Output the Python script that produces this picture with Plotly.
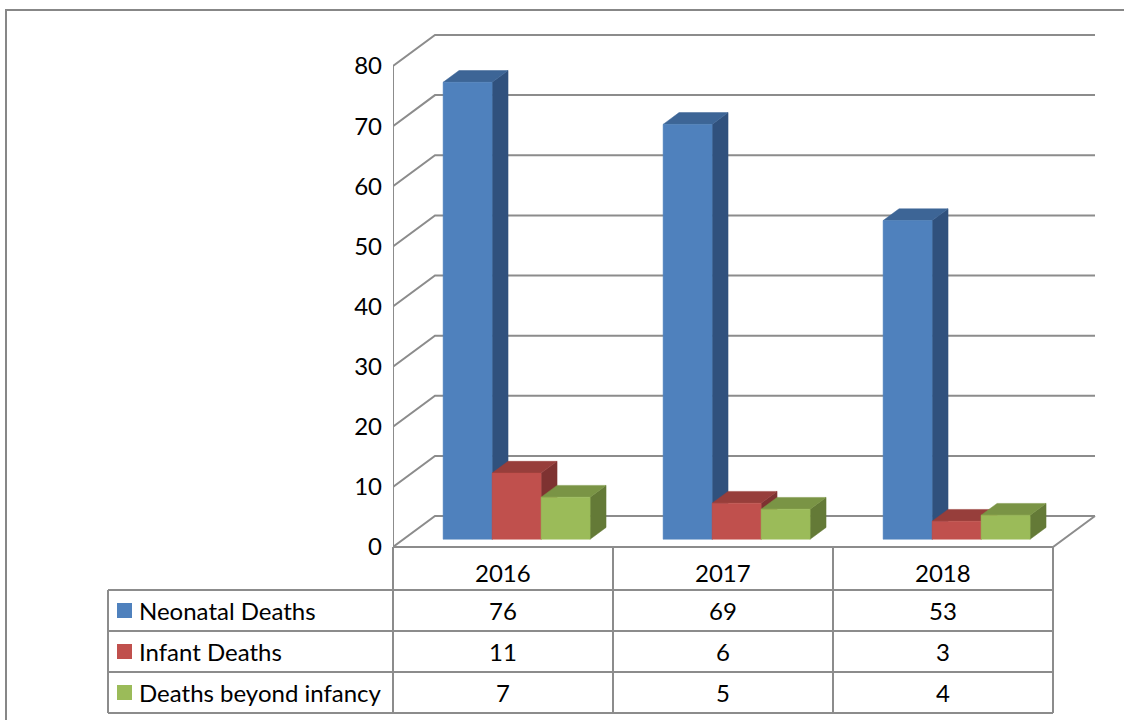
import plotly.graph_objects as go

# ---------------- data ----------------
years = ["2016", "2017", "2018"]
series_names = ["Neonatal Deaths", "Infant Deaths", "Deaths beyond infancy"]
neonatal = [76, 69, 53]
infant = [11, 6, 3]
beyond = [7, 5, 4]
y_ticks = [0, 10, 20, 30, 40, 50, 60, 70, 80]

series_values = [neonatal, infant, beyond]
front_colors = ["#4F81BD", "#C0504D", "#9BBB59"]
top_colors = ["#3D6596", "#973E3B", "#7A9445"]
side_colors = ["#30517D", "#7E3231", "#647A37"]

# ---------------- geometry ----------------
W, H = 1124, 720
X0_PX = 393.0          # pixel of category axis start
CAT_PX = 220.0         # pixels per category
Y0_PX = 547.0          # pixel of value 0 (front)
UNIT_PX = 6.0125       # pixels per value unit
DX = 42.0 / CAT_PX     # wall depth in category units
DY = 31.0 / UNIT_PX    # wall depth in value units
GROUP_START = 0.18
BAR_W = 0.2227
D_FRONT, D_BACK = 0.25, 0.63
GRID = "#8C8C8C"
FONT = "Lato"
FS = 24

x_range = [0, (W - X0_PX) / CAT_PX]
y_max = Y0_PX / UNIT_PX
y_range = [y_max - H / UNIT_PX, y_max]


def proj(x, y, d):
    return x + d * DX, y + d * DY


def px_x(x):  # data x -> paper
    return (X0_PX + x * CAT_PX) / W


def py(p):  # pixel y -> paper
    return 1 - p / H


fig = go.Figure()


def poly(pts, color, line_color=None):
    xs = [p[0] for p in pts] + [pts[0][0]]
    ys = [p[1] for p in pts] + [pts[0][1]]
    fig.add_trace(go.Scatter(x=xs, y=ys, mode="lines", fill="toself",
                             fillcolor=color,
                             line=dict(color=line_color or color, width=0.5),
                             hoverinfo="skip", showlegend=False))


def line(pts, color=GRID, width=2):
    fig.add_trace(go.Scatter(x=[p[0] for p in pts], y=[p[1] for p in pts],
                             mode="lines", line=dict(color=color, width=width),
                             hoverinfo="skip", showlegend=False))


n_cat = len(years)
# gridlines on side and back walls
for t in y_ticks:
    line([(0, t), proj(0, t, 1), proj(n_cat, t, 1)])
# floor front and right edges
line([proj(n_cat, 0, 1), (n_cat, 0), (0, 0)])
# front value axis
line([(0, 0), (0, y_ticks[-1])])

# bars
for i in range(n_cat):
    for j, vals in enumerate(series_values):
        v = vals[i]
        xl = i + GROUP_START + j * BAR_W
        xr = xl + BAR_W
        side = [proj(xr, 0, D_FRONT), proj(xr, 0, D_BACK), proj(xr, v, D_BACK), proj(xr, v, D_FRONT)]
        top = [proj(xl, v, D_FRONT), proj(xr, v, D_FRONT), proj(xr, v, D_BACK), proj(xl, v, D_BACK)]
        front = [proj(xl, 0, D_FRONT), proj(xr, 0, D_FRONT), proj(xr, v, D_FRONT), proj(xl, v, D_FRONT)]
        poly(side, side_colors[j])
        poly(top, top_colors[j])
        poly(front, front_colors[j])

shapes = []
annotations = []

# outer chart border
shapes.append(dict(type="rect", xref="paper", yref="paper",
                   x0=6 / W, x1=1.02, y0=-0.02, y1=py(10),
                   line=dict(color="#878787", width=2), fillcolor="rgba(0,0,0,0)"))

# data table
LEG_X = 108
row_edges = [590, 631, 672, 713]
TABLE_LINE = "#8C8C8C"
for r in row_edges:
    shapes.append(dict(type="line", xref="paper", yref="paper",
                       x0=LEG_X / W, x1=px_x(n_cat), y0=py(r), y1=py(r),
                       line=dict(color=TABLE_LINE, width=2)))
shapes.append(dict(type="line", xref="paper", yref="paper",
                   x0=LEG_X / W, x1=LEG_X / W, y0=py(row_edges[0]), y1=py(row_edges[-1]),
                   line=dict(color=TABLE_LINE, width=2)))
for k in range(n_cat + 1):
    shapes.append(dict(type="line", xref="paper", yref="paper",
                       x0=px_x(k), x1=px_x(k), y0=py(Y0_PX), y1=py(row_edges[-1]),
                       line=dict(color=TABLE_LINE, width=2)))

# header
for i, yr in enumerate(years):
    annotations.append(dict(text=yr, xref="paper", yref="paper",
                            x=px_x(i + 0.5), y=py(572), xanchor="center", yanchor="middle",
                            showarrow=False, font=dict(family=FONT, size=FS, color="black")))
row_centers = [590 + 20.5, 631 + 20.5, 672 + 20.5]
for j, name in enumerate(series_names):
    yc = row_centers[j]
    shapes.append(dict(type="rect", xref="paper", yref="paper",
                       x0=117 / W, x1=132 / W, y0=py(yc + 7.5), y1=py(yc - 7.5),
                       line=dict(width=0), fillcolor=front_colors[j]))
    annotations.append(dict(text=name, xref="paper", yref="paper",
                            x=137 / W, y=py(yc), xanchor="left", yanchor="middle",
                            showarrow=False, font=dict(family=FONT, size=FS, color="black")))
    for i in range(n_cat):
        annotations.append(dict(text=str(series_values[j][i]), xref="paper", yref="paper",
                                x=px_x(i + 0.5), y=py(yc), xanchor="center", yanchor="middle",
                                showarrow=False, font=dict(family=FONT, size=FS, color="black")))

fig.update_layout(
    width=W, height=H,
    margin=dict(l=0, r=0, t=0, b=0),
    paper_bgcolor="white", plot_bgcolor="white",
    showlegend=False,
    hovermode=False,
    xaxis=dict(domain=[X0_PX / W, 1], range=x_range, visible=True, fixedrange=True,
               showgrid=False, zeroline=False, showline=False, showticklabels=False, ticks=""),
    yaxis=dict(domain=[0, 1], range=y_range, tickvals=y_ticks, fixedrange=True,
               ticktext=[str(t) for t in y_ticks],
               showgrid=False, zeroline=False, showline=False, ticks="",
               ticklabelstandoff=10,
               tickfont=dict(family=FONT, size=FS, color="black")),
    shapes=shapes,
    annotations=annotations,
)

fig.write_html("out.html", config={"displayModeBar": False},
               post_script="document.body.style.margin='0';document.body.style.overflow='hidden';")
